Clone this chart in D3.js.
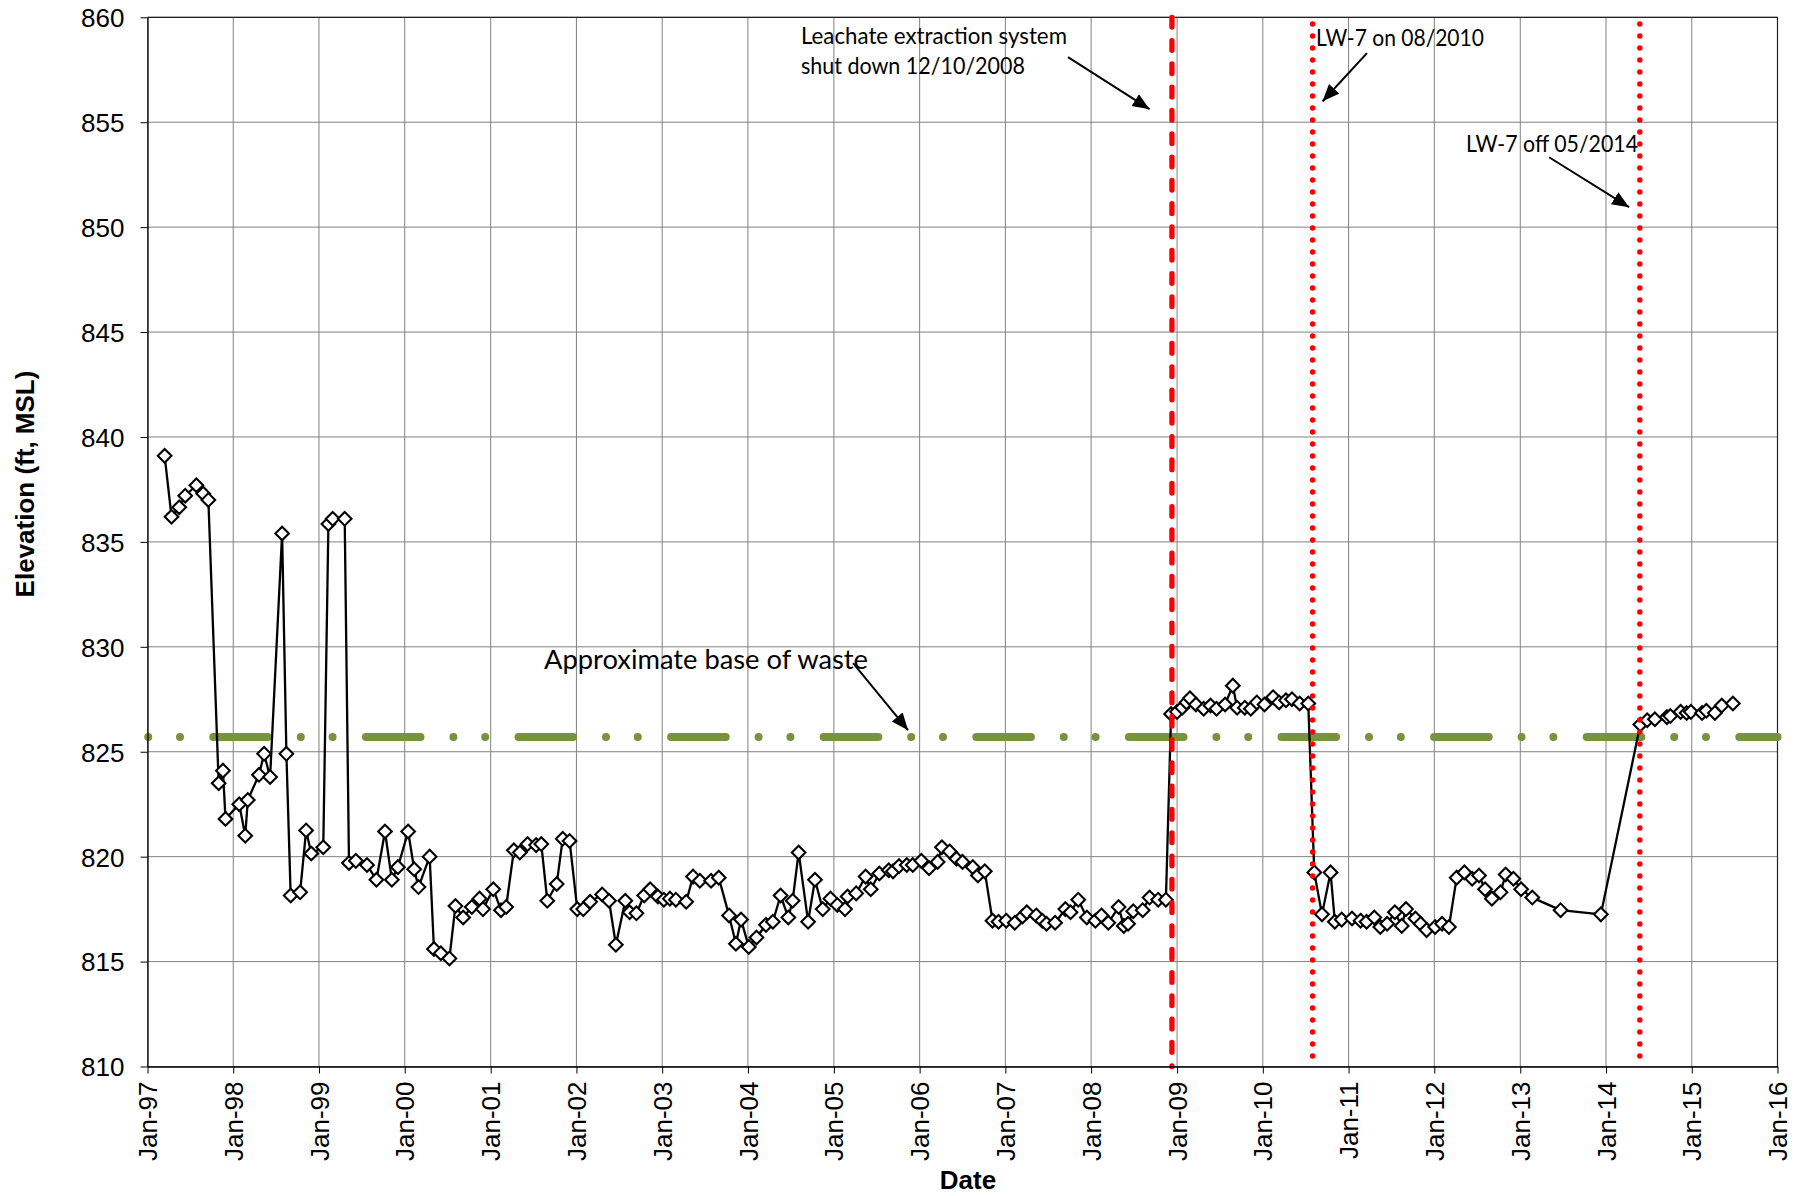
<!DOCTYPE html>
<html><head><meta charset="utf-8">
<script src="https://cdn.jsdelivr.net/npm/d3@7"></script>
<style>body{margin:0;background:#fff} svg{display:block}</style>
</head><body><svg id="chart" width="1804" height="1196"></svg>
<script>
// ---- data (decimal year of measurement, elevation ft MSL) ----
const sampleYears = [
 1997.20,1997.28,1997.37,1997.44,1997.57,1997.65,1997.71,1997.83,1997.88,1997.91,
 1998.07,1998.14,1998.17,1998.30,1998.36,1998.43,1998.57,1998.62,1998.67,1998.78,
 1998.85,1998.91,1999.05,1999.11,1999.16,1999.30,1999.35,1999.43,1999.56,1999.67,
 1999.77,1999.85,1999.92,2000.04,2000.11,2000.16,2000.29,2000.34,2000.42,2000.52,
 2000.59,2000.68,2000.78,2000.87,2000.91,2001.03,2001.12,2001.18,2001.27,2001.34,
 2001.43,2001.53,2001.59,2001.66,2001.77,2001.84,2001.92,2002.01,2002.08,2002.16,
 2002.30,2002.38,2002.46,2002.57,2002.62,2002.70,2002.79,2002.86,2002.95,2003.02,
 2003.09,2003.16,2003.28,2003.36,2003.44,2003.57,2003.66,2003.78,2003.86,2003.92,
 2004.01,2004.10,2004.21,2004.29,2004.38,2004.47,2004.52,2004.59,2004.70,2004.78,
 2004.87,2004.96,2005.04,2005.13,2005.16,2005.26,2005.37,2005.43,2005.53,2005.64,
 2005.69,2005.76,2005.85,2005.92,2006.02,2006.11,2006.21,2006.26,2006.35,2006.43,
 2006.50,2006.62,2006.68,2006.76,2006.85,2006.92,2007.01,2007.11,2007.20,2007.25,
 2007.36,2007.43,2007.48,2007.58,2007.70,2007.76,2007.85,2007.95,2008.05,2008.12,
 2008.20,2008.32,2008.38,2008.43,2008.49,2008.60,2008.68,2008.78,2008.87,2008.93,
 2009.00,2009.06,2009.11,2009.15,2009.22,2009.31,2009.39,2009.46,2009.56,2009.65,
 2009.70,2009.79,2009.86,2009.93,2010.02,2010.12,2010.19,2010.27,2010.34,2010.43,
 2010.53,2010.60,2010.69,2010.79,2010.84,2010.92,2011.04,2011.14,2011.21,2011.30,
 2011.37,2011.45,2011.54,2011.62,2011.67,2011.78,2011.84,2011.91,2012.01,2012.09,
 2012.17,2012.26,2012.35,2012.44,2012.52,2012.59,2012.67,2012.77,2012.83,2012.92,
 2013.01,2013.14,2013.47,2013.94,2014.40,2014.48,2014.57,2014.71,2014.75,2014.87,
 2014.94,2014.99,2015.12,2015.17,2015.27,2015.35,2015.48
];
const elevations = [
 839.1,836.2,836.65,837.2,837.7,837.3,837.0,823.5,824.1,821.8,
 822.5,821.0,822.7,823.9,824.9,823.8,835.4,824.9,818.15,818.3,
 821.25,820.15,820.45,835.85,836.1,836.1,819.7,819.8,819.6,818.9,
 821.2,818.9,819.5,821.2,819.4,818.55,820.0,815.6,815.4,815.15,
 817.65,817.1,817.6,818.0,817.5,818.45,817.45,817.6,820.3,820.2,
 820.6,820.55,820.6,817.9,818.7,820.85,820.75,817.5,817.5,817.85,
 818.2,817.9,815.8,817.9,817.35,817.3,818.15,818.45,818.1,817.95,
 818.0,817.95,817.85,819.05,818.85,818.85,819.0,817.2,815.85,817.0,
 815.7,816.15,816.75,816.9,818.15,817.1,817.9,820.2,816.9,818.9,
 817.5,818.0,817.7,817.5,818.1,818.25,819.05,818.45,819.2,819.35,
 819.3,819.55,819.6,819.6,819.8,819.45,819.75,820.45,820.25,819.9,
 819.75,819.5,819.1,819.3,816.95,816.9,816.95,816.85,817.15,817.35,
 817.2,816.95,816.8,816.85,817.5,817.35,817.95,817.1,816.95,817.2,
 816.85,817.6,816.7,816.8,817.4,817.45,818.05,817.95,817.95,826.8,
 826.9,827.1,827.35,827.55,827.25,827.05,827.2,827.05,827.25,828.15,
 827.1,827.1,827.05,827.35,827.25,827.6,827.35,827.45,827.5,827.3,
 827.3,819.25,817.25,819.25,816.9,817.0,817.05,816.95,816.9,817.1,
 816.65,816.8,817.35,816.7,817.5,817.05,816.8,816.5,816.65,816.8,
 816.65,819.0,819.25,818.95,819.1,818.45,818.0,818.3,819.15,818.95,
 818.45,818.05,817.45,817.25,826.3,826.5,826.55,826.65,826.7,826.9,
 826.85,826.9,826.85,826.95,826.85,827.2,827.3
];
const yTickValues = [810,815,820,825,830,835,840,845,850,855,860];
const xTickYears = [1997,1998,1999,2000,2001,2002,2003,2004,2005,2006,2007,2008,2009,2010,2011,2012,2013,2014,2015,2016];
const baseOfWaste = 825.7;
const eventDates = ["2008-12-10","2010-08-01","2014-05-25"];
const eventKinds = ["dashed","dotted","dotted"];
const noteLines = [["Leachate extraction system","shut down 12/10/2008"],["LW-7 on 08/2010"],["LW-7 off 05/2014"],["Approximate base of waste"]];
// text anchor (decimal year, elevation of first baseline) and arrow start/tip (year, elevation)
const noteAnchors = [[2004.617,858.71],[2010.62,858.62],[2012.369,853.57],[2001.622,828.94]];
const arrowStarts = [[2007.73,858.10],[2011.215,858.29],[2013.336,853.33],[2005.224,829.22]];
const arrowTips   = [[2008.68,855.62],[2010.697,856.0],[2014.269,850.95],[2005.865,826.03]];

// ---- helpers ----
function dec2date(d){ const yr=Math.floor(d); const a=new Date(yr,0,1), b=new Date(yr+1,0,1); return new Date(+a+(d-yr)*(b-a)); }
const pts = sampleYears.map((d,i)=>({date:dec2date(d), value:elevations[i]}));

const svg = d3.select("#chart");
const x = d3.scaleTime().domain([new Date(1997,0,1), new Date(2016,0,1)]).range([147.5,1777.5]);
const y = d3.scaleLinear().domain([810,860]).range([1066.5,17.3]);
const xTicks = xTickYears.map(yv=>new Date(yv,0,1));
const [X0,X1] = x.range(), [Y0,Y1] = y.range();

// gridlines
const grid = svg.append("g").attr("stroke","#808080").attr("stroke-width",1);
grid.selectAll(".vg").data(xTicks).join("line").attr("x1",d=>x(d)).attr("x2",d=>x(d)).attr("y1",Y0).attr("y2",Y1);
grid.selectAll(".hg").data(yTickValues).join("line").attr("x1",X0).attr("x2",X1).attr("y1",d=>y(d)).attr("y2",d=>y(d));
// border top/right
svg.append("line").attr("x1",X0).attr("x2",X1).attr("y1",Y1).attr("y2",Y1).attr("stroke","#222").attr("stroke-width",1.2);
svg.append("line").attr("x1",X1).attr("x2",X1).attr("y1",Y1).attr("y2",Y0).attr("stroke","#222").attr("stroke-width",1.2);

// base of waste line
svg.append("line").attr("x1",X0).attr("x2",X1).attr("y1",y(baseOfWaste)).attr("y2",y(baseOfWaste))
  .attr("stroke","#77933c").attr("stroke-width",8).attr("stroke-linecap","round")
  .attr("stroke-dasharray","0 31.8 0 33.3 54.6 32.9").attr("stroke-dashoffset",-0.7);

// data line + markers
svg.append("path").datum(pts).attr("fill","none").attr("stroke","#000").attr("stroke-width",2.3)
  .attr("stroke-linejoin","round")
  .attr("d", d3.line().x(d=>x(d.date)).y(d=>y(d.value)));
const diamondType = {draw(ctx,size){const r=Math.sqrt(size)/2; ctx.moveTo(0,-r); ctx.lineTo(r,0); ctx.lineTo(0,r); ctx.lineTo(-r,0); ctx.closePath();}};
svg.append("g").selectAll("path").data(pts).join("path")
  .attr("transform",d=>`translate(${x(d.date)},${y(d.value)})`)
  .attr("d", d3.symbol(diamondType,185)())
  .attr("fill","#fff").attr("stroke","#000").attr("stroke-width",2.1);

// event lines
const parse = d3.timeParse("%Y-%m-%d");
eventDates.forEach((s,i)=>{
  const xx = x(parse(s));
  const l = svg.append("line").attr("x1",xx).attr("x2",xx).attr("y1",Y1).attr("y2",Y0)
    .attr("stroke","#ff0000").attr("stroke-linecap","round");
  if(eventKinds[i]==="dashed") l.attr("stroke-width",5.3).attr("stroke-dasharray","9.7 13.6");
  else l.attr("stroke-width",5.5).attr("stroke-dasharray","0 12").attr("stroke-dashoffset",-6.7);
});

// axes
const yAxis = d3.axisLeft(y).tickValues(yTickValues).tickSize(7).tickSizeOuter(0).tickPadding(16);
svg.append("g").attr("transform",`translate(${X0},0)`).call(yAxis)
  .attr("font-family","'Liberation Sans', Arial, sans-serif").attr("font-size",26)
  .call(g=>g.select(".domain").attr("stroke","#000").attr("stroke-width",1.3))
  .call(g=>g.selectAll("text").attr("fill","#000").attr("dy","0.36em"));
const xAxis = d3.axisBottom(x).tickValues(xTicks).tickSize(7).tickSizeOuter(0).tickFormat(d3.timeFormat("%b-%y"));
svg.append("g").attr("transform",`translate(0,${Y0})`).call(xAxis)
  .attr("font-family","'Liberation Sans', Arial, sans-serif").attr("font-size",26)
  .call(g=>g.select(".domain").attr("stroke","#000").attr("stroke-width",1.3))
  .call(g=>g.selectAll("text").attr("fill","#000").attr("transform","rotate(-90)")
     .attr("text-anchor","end").attr("x",-15).attr("y",0).attr("dy","0.35em"));

// axis titles
svg.append("text").attr("transform","translate(25,484) rotate(-90)").attr("text-anchor","middle").attr("dy","0.35em")
  .attr("font-family","'Liberation Sans', Arial, sans-serif").attr("font-size",26).attr("font-weight","bold").text("Elevation (ft, MSL)");
svg.append("text").attr("x",968).attr("y",1189).attr("text-anchor","middle")
  .attr("font-family","'Liberation Sans', Arial, sans-serif").attr("font-size",26).attr("font-weight","bold").text("Date");

// annotations
const noteWidths = [[266,224],[168],[172],[324]];
const defs = svg.append("defs");
defs.append("marker").attr("id","ah").attr("markerUnits","userSpaceOnUse").attr("markerWidth",20).attr("markerHeight",16)
  .attr("refX",17).attr("refY",7).attr("orient","auto")
  .append("path").attr("d","M0,0 L17,7 L0,14 Z").attr("fill","#000");
const ax = v=>x(dec2date(v));
noteLines.forEach((lines,i)=>{
  const fs = i===3 ? 27.5 : 22.3;
  const t = svg.append("text").attr("font-family","Lato, 'Open Sans', sans-serif").attr("font-size",fs).attr("fill","#000")
    .attr("x",ax(noteAnchors[i][0])).attr("y",y(noteAnchors[i][1]));
  lines.forEach((s,j)=>t.append("tspan").attr("x",ax(noteAnchors[i][0])).attr("dy",j===0?0:30)
     .attr("textLength",noteWidths[i][j]).attr("lengthAdjust","spacingAndGlyphs").text(s));
  svg.append("line").attr("x1",ax(arrowStarts[i][0])).attr("y1",y(arrowStarts[i][1]))
    .attr("x2",ax(arrowTips[i][0])).attr("y2",y(arrowTips[i][1]))
    .attr("stroke","#000").attr("stroke-width",2).attr("marker-end","url(#ah)");
});
</script></body></html>
